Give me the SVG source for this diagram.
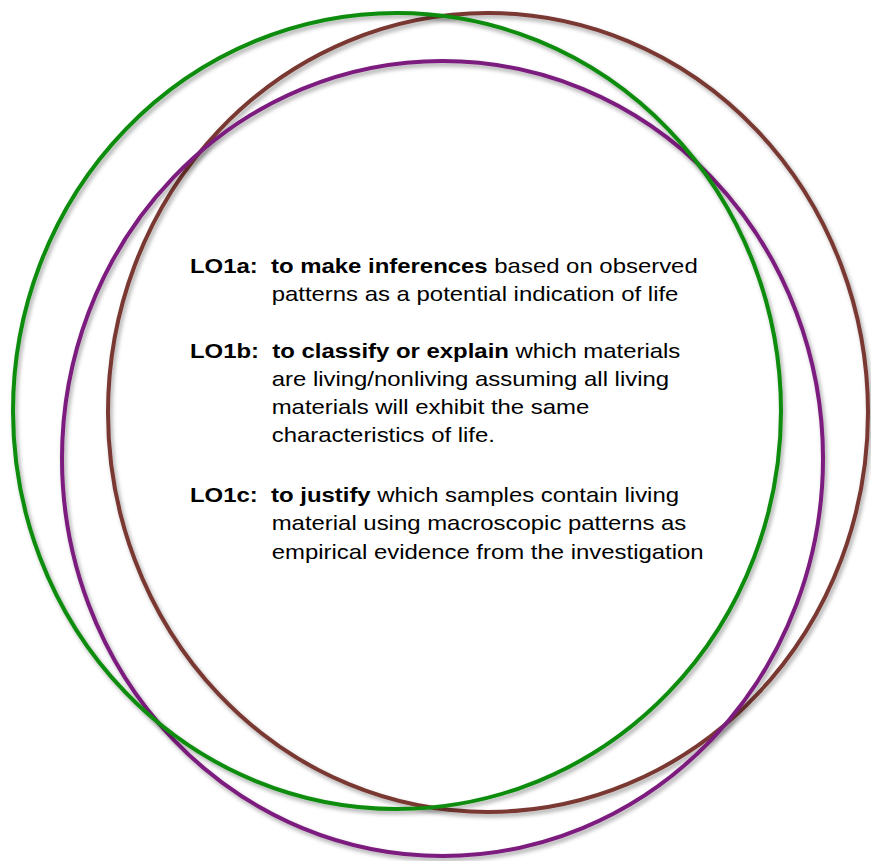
<svg xmlns="http://www.w3.org/2000/svg" width="871" height="861" viewBox="0 0 871 861">
  <defs>
    <filter id="shadow" x="-10%" y="-10%" width="120%" height="120%">
      <feDropShadow dx="2" dy="3" stdDeviation="2" flood-color="#000" flood-opacity="0.35"/>
    </filter>
  </defs>
  <style>
    .ring { fill: none; stroke-width: 4; filter: url(#shadow); }
    .t { font-family: "Liberation Sans", Arial, Helvetica, sans-serif; font-size: 20.5px; fill: #000; white-space: pre; }
    .b { font-weight: bold; }
  </style>
  <rect width="871" height="861" fill="#fff"/>
  <g id="circles">
    <ellipse id="brown" class="ring" cx="488" cy="412.5" rx="380" ry="399.5" stroke="#7a3832"/>
    <ellipse id="purple" class="ring" cx="442.5" cy="458.5" rx="380.5" ry="397.5" stroke="#7b1b7e"/>
    <ellipse id="green" class="ring" cx="397" cy="411" rx="384" ry="398" stroke="#0a8c0a"/>
  </g>
  <g id="objectives" transform="translate(190,0) scale(1.167,1)">
    <g id="lo1a">
      <text class="t" x="0" y="273" xml:space="preserve"><tspan class="b">LO1a:  to make inferences</tspan> based on observed</text>
      <text class="t" x="70" y="301">patterns as a potential indication of life</text>
    </g>
    <g id="lo1b">
      <text class="t" x="0" y="358.5" xml:space="preserve"><tspan class="b">LO1b:  to classify or explain</tspan> which materials</text>
      <text class="t" x="70" y="386">are living/nonliving assuming all living</text>
      <text class="t" x="70" y="414">materials will exhibit the same</text>
      <text class="t" x="70" y="442">characteristics of life.</text>
    </g>
    <g id="lo1c">
      <text class="t" x="0" y="502.5" xml:space="preserve"><tspan class="b">LO1c:  to justify</tspan> which samples contain living</text>
      <text class="t" x="70" y="530.5">material using macroscopic patterns as</text>
      <text class="t" x="70" y="559">empirical evidence from the investigation</text>
    </g>
  </g>
</svg>
